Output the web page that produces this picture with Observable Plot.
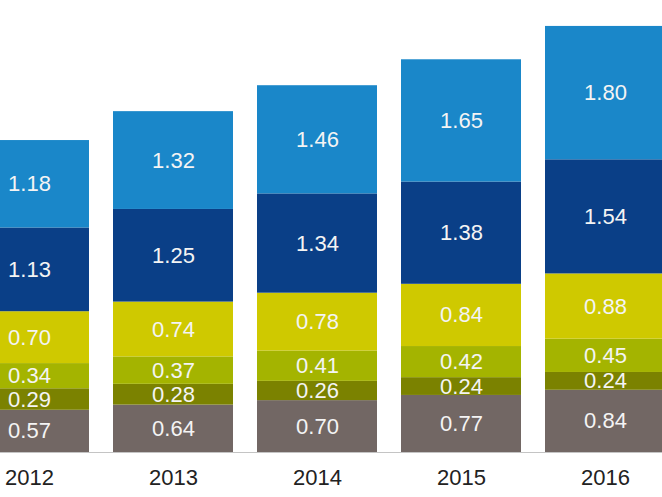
<!DOCTYPE html>
<html>
<head>
<meta charset="utf-8">
<script src="https://cdn.jsdelivr.net/npm/d3@7"></script>
<script src="https://cdn.jsdelivr.net/npm/@observablehq/plot@0.6"></script>
<style>
  html, body { margin: 0; padding: 0; background: #fff; }
  #chart svg { display: block; overflow: hidden; }
</style>
</head>
<body>
<div id="chart"></div>
<script>
const years = ["2012", "2013", "2014", "2015", "2016"];
const seriesNames = ["s1", "s2", "s3", "s4", "s5", "s6"]; // bottom to top
const seriesColors = ["#726764", "#7b8200", "#a4b400", "#cfc900", "#0a3f87", "#1a87c9"];
const s1 = [0.57, 0.64, 0.70, 0.77, 0.84];
const s2 = [0.29, 0.28, 0.26, 0.24, 0.24];
const s3 = [0.34, 0.37, 0.41, 0.42, 0.45];
const s4 = [0.70, 0.74, 0.78, 0.84, 0.88];
const s5 = [1.13, 1.25, 1.34, 1.38, 1.54];
const s6 = [1.18, 1.32, 1.46, 1.65, 1.80];
const seriesValues = [s1, s2, s3, s4, s5, s6];

const data = [];
seriesNames.forEach((s, i) => {
  years.forEach((yr, j) => data.push({year: yr, series: s, value: seriesValues[i][j]}));
});

const chart = Plot.plot({
  width: 662,
  height: 497,
  marginTop: 0,
  marginBottom: 45,
  marginLeft: 0,
  marginRight: 0,
  style: {fontFamily: "'Liberation Sans', Arial, sans-serif", background: "#fff"},
  x: {domain: years, range: [-43, 677], paddingInner: 1/6, paddingOuter: 1/12, label: null},
  y: {domain: [0, 6.1], axis: null},
  color: {domain: seriesNames, range: seriesColors},
  marks: [
    Plot.barY(data, Plot.stackY({x: "year", y: "value", z: "series", fill: "series", order: seriesNames})),
    Plot.text(data, Plot.stackY({x: "year", y: "value", z: "series", order: seriesNames,
      text: d => d.value.toFixed(2), fill: "#f4f4f4", fontSize: 22})),
    Plot.ruleY([0], {stroke: "#c4c4c4", strokeWidth: 1}),
    Plot.axisX({tickSize: 0, tickPadding: 17, fontSize: 22, fill: "#222", label: null})
  ]
});
document.getElementById("chart").appendChild(chart);
</script>
</body>
</html>
